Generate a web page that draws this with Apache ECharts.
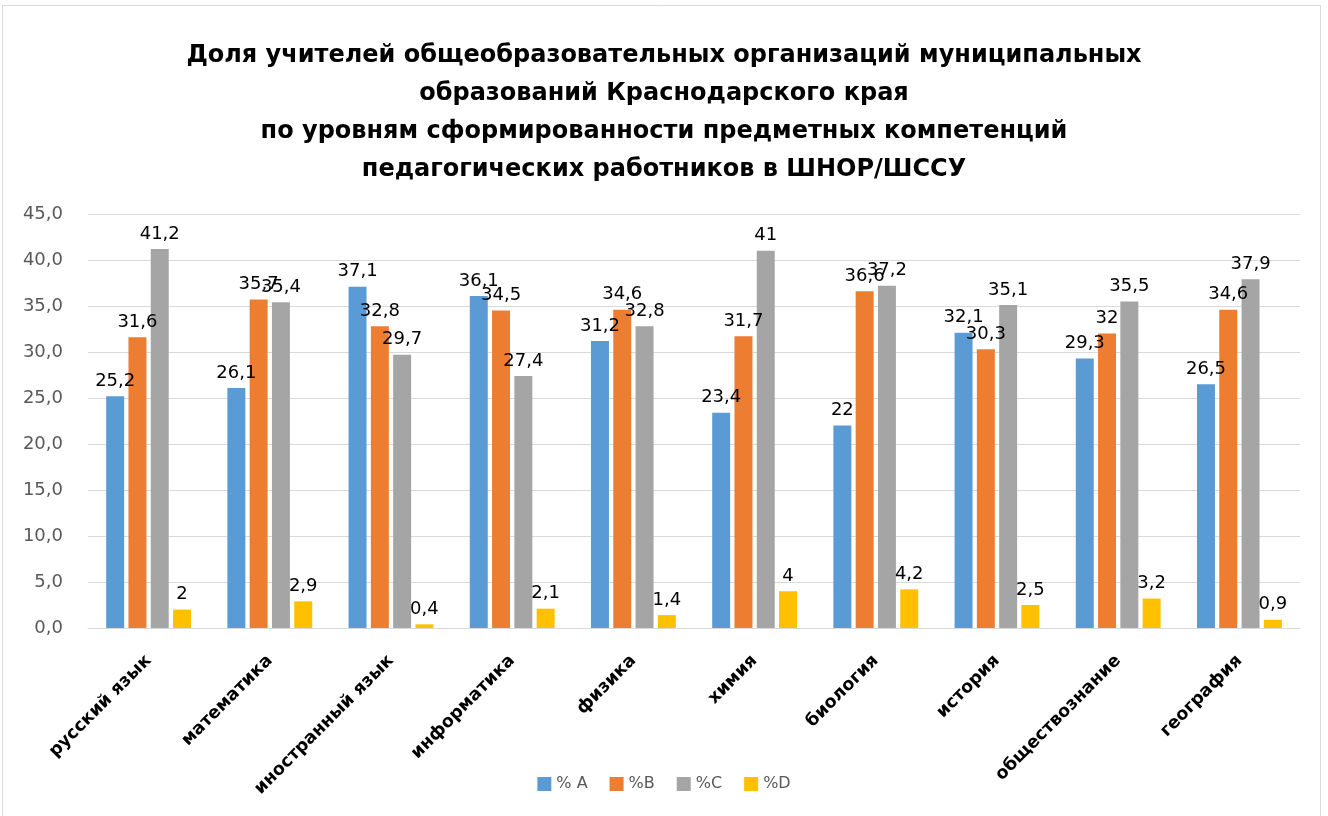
<!DOCTYPE html>
<html><head><meta charset="utf-8">
<script src="https://cdn.jsdelivr.net/npm/echarts@6/dist/echarts.min.js"></script>
<style>html,body{margin:0;padding:0;background:#fff}#c{width:1328px;height:816px}</style>
</head><body><div id="c"></div>
<script>
const categories = ['русский язык','математика','иностранный язык','информатика','физика','химия','биология','история','обществознание','география'];
const seriesNames = ['% A','%B','%C','%D'];
const valuesA = [25.2, 26.1, 37.1, 36.1, 31.2, 23.4, 22, 32.1, 29.3, 26.5];
const valuesB = [31.6, 35.7, 32.8, 34.5, 34.6, 31.7, 36.6, 30.3, 32, 34.6];
const valuesC = [41.2, 35.4, 29.7, 27.4, 32.8, 41, 37.2, 35.1, 35.5, 37.9];
const valuesD = [2, 2.9, 0.4, 2.1, 1.4, 4, 4.2, 2.5, 3.2, 0.9];
const colors = ['#5B9BD5','#ED7D31','#A5A5A5','#FFC000'];
const titleText = 'Доля учителей общеобразовательных организаций муниципальных\nобразований Краснодарского края\nпо уровням сформированности предметных компетенций\nпедагогических работников в ШНОР/ШССУ';

const font = '"DejaVu Sans", sans-serif';
const allValues = [valuesA, valuesB, valuesC, valuesD];
const chart = echarts.init(document.getElementById('c'), null, {renderer:'canvas'});
chart.setOption({
  animation: false,
  textStyle: {fontFamily: font},
  graphic: [{type:'rect', shape:{x:2.5,y:5.5,width:1318,height:830}, style:{fill:'none', stroke:'#D9D9D9', lineWidth:1}, z:-1}],
  title: {
    text: titleText, left: 'center', top: 32,
    textStyle: {fontFamily: font, fontSize: 24, fontWeight: 'bold', color: '#000', lineHeight: 38}
  },
  legend: {
    data: seriesNames, bottom: 19, left: 'center', itemWidth: 14, itemHeight: 14, itemGap: 22,
    icon: 'rect',
    textStyle: {fontFamily: font, fontSize: 16, color: '#595959'}
  },
  grid: {left: 88, right: 28, top: 214, bottom: 188},
  xAxis: {
    type: 'category', data: categories,
    axisLine: {show: true, lineStyle: {color: '#D9D9D9'}},
    axisTick: {show: false},
    axisLabel: {rotate: 45, interval: 0, margin: 30, fontSize: 17.5, fontWeight: 'bold', color: '#000', fontFamily: font}
  },
  yAxis: {
    type: 'value', min: 0, max: 45, interval: 5,
    axisLine: {show: false}, axisTick: {show: false},
    splitLine: {lineStyle: {color: '#D9D9D9'}},
    axisLabel: {fontSize: 18, color: '#595959', margin: 25, fontFamily: font,
      formatter: v => v.toFixed(1).replace('.', ',')}
  },
  series: seriesNames.map((n, i) => ({
    name: n, type: 'bar', data: allValues[i],
    barGap: '24%', barCategoryGap: '30%',
    itemStyle: {color: colors[i]},
    label: {show: true, position: 'top', distance: 6, fontSize: 18, color: '#000', fontFamily: font,
      formatter: p => String(p.value).replace('.', ',')}
  }))
});
</script></body></html>
